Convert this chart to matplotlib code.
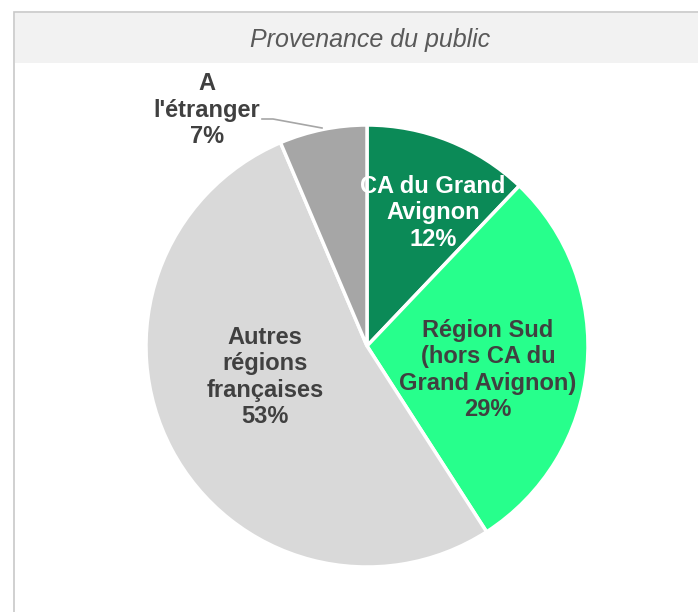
import matplotlib.pyplot as plt
from matplotlib.patches import Rectangle

plt.rcParams['font.family'] = ['Liberation Sans', 'DejaVu Sans']

labels = ["CA du Grand\nAvignon", "Région Sud\n(hors CA du\nGrand Avignon)",
          "Autres\nrégions\nfrançaises", "A\nl'étranger"]
# slice sizes as measured on the picture, percentages as printed
shares = [12.1, 28.8, 52.7, 6.4]
pct_labels = ["12%", "29%", "53%", "7%"]
colors = ["#0b8a57", "#27ff8c", "#d9d9d9", "#a6a6a6"]

W, H = 698, 612
fig = plt.figure(figsize=(W / 100, H / 100), dpi=100)
ax = fig.add_axes([0, 0, 1, 1])

# panel frame and title bar
ax.add_patch(Rectangle((14, -5), W, H - 12 + 5, facecolor='white', edgecolor='#c8c8c8', lw=1.2))
ax.add_patch(Rectangle((15, H - 63), W, 50, facecolor='#f2f2f2', edgecolor='none'))
ax.text(370, H - 40, "Provenance du public", ha='center', va='center',
        fontsize=18, style='italic', color='#595959')

cx, cy, r = 367, H - 346, 221
wedges, _ = ax.pie(shares, colors=colors, startangle=90, counterclock=False,
                   center=(cx, cy), radius=r, frame=True,
                   wedgeprops=dict(edgecolor='white', linewidth=2.5))
ax.set_xlim(0, W)
ax.set_ylim(0, H)
ax.set_aspect('equal')
ax.axis('off')

txt = dict(ha='center', va='center', fontsize=17, fontweight='bold', linespacing=1.2)
ax.text(433, H - 213, f"{labels[0]}\n{pct_labels[0]}", color='white', **txt)
ax.text(488, H - 370, f"{labels[1]}\n{pct_labels[1]}", color='#404040', **txt)
ax.text(265, H - 377, f"{labels[2]}\n{pct_labels[2]}", color='#404040', **txt)
ax.text(207, H - 110, f"{labels[3]}\n{pct_labels[3]}", color='#404040', **txt)

# leader line for the small slice
ax.plot([262, 273, 322], [H - 119, H - 119, H - 128], color='#a6a6a6', lw=1.2)

fig.savefig("out.png", dpi=100)
